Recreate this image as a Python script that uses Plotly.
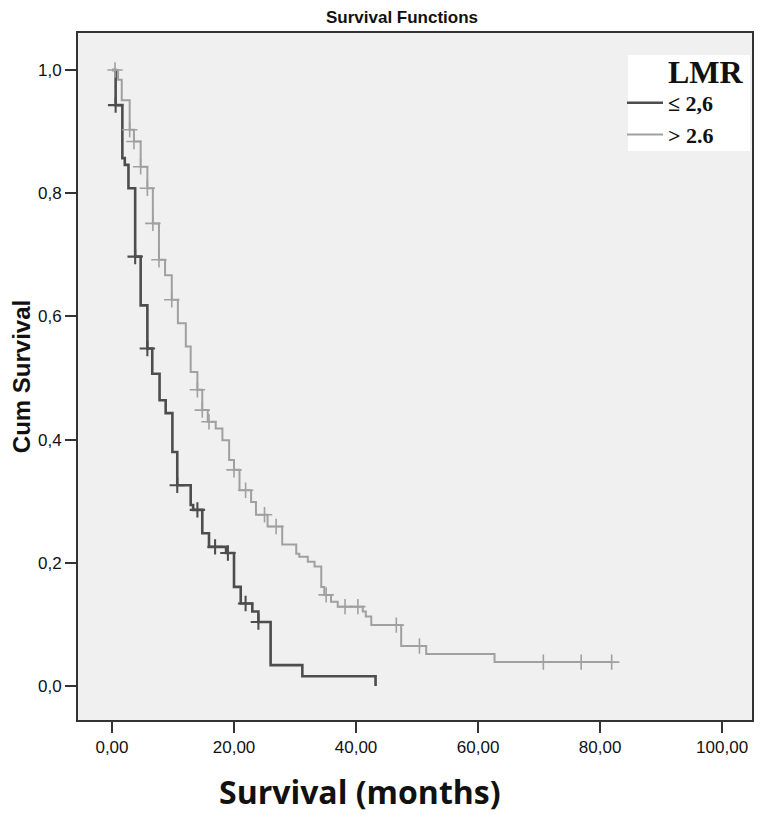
import plotly.graph_objects as go

# ---- data ----
low_times = [0, 0.6, 1.7, 2.1, 2.7, 3.8, 4.7, 5.8, 6.6, 7.8, 8.8, 9.9, 10.7, 12.9, 13.3,
             14.8, 15.9, 18.7, 20.0, 21.1, 23.0, 24.0, 26.0, 31.2, 43.2]
low_surv = [1.0, 0.943, 0.857, 0.846, 0.808, 0.697, 0.618, 0.548, 0.507, 0.464, 0.443, 0.380,
            0.326, 0.294, 0.286, 0.248, 0.226, 0.216, 0.161, 0.134, 0.121, 0.104, 0.034, 0.016, 0.0]
low_censor = [0.6, 3.8, 5.8, 10.7, 14.0, 16.9, 19.0, 21.9, 24.0]

high_times = [0, 1.0, 1.6, 2.9, 3.6, 4.7, 5.8, 6.7, 7.7, 8.7, 9.8, 10.8, 12.1, 12.9, 14.0,
              14.8, 15.7, 17.0, 18.1, 19.2, 20.0, 20.9, 22.8, 23.6, 25.5, 27.9, 30.2, 30.7,
              32.1, 33.2, 34.3, 34.8, 35.9, 37.0, 41.1, 41.6, 42.5, 47.4, 51.5, 62.7]
high_surv = [1.0, 0.984, 0.951, 0.903, 0.884, 0.843, 0.808, 0.751, 0.692, 0.667, 0.627, 0.589,
             0.551, 0.510, 0.481, 0.448, 0.429, 0.418, 0.399, 0.367, 0.351, 0.318, 0.299, 0.278,
             0.259, 0.230, 0.215, 0.210, 0.202, 0.194, 0.161, 0.148, 0.137, 0.129, 0.121, 0.113,
             0.099, 0.065, 0.052, 0.039]
high_censor = [0.5, 2.9, 3.6, 4.7, 5.8, 6.7, 7.7, 9.8, 14.0, 14.8, 15.9, 20.0, 21.9, 25.0,
               26.9, 35.1, 38.2, 40.3, 46.6, 50.4, 70.7, 76.9, 81.9]

x_ticks = [0, 20, 40, 60, 80, 100]
x_ticklabels = ["0,00", "20,00", "40,00", "60,00", "80,00", "100,00"]
y_ticks = [0, 0.2, 0.4, 0.6, 0.8, 1.0]
y_ticklabels = ["0,0", "0,2", "0,4", "0,6", "0,8", "1,0"]

legend_title = "LMR"
group_names = ["\u2264 2,6", "> 2.6"]


def step_value(times, surv, t):
    v = surv[0]
    for ti, si in zip(times, surv):
        if ti <= t:
            v = si
    return v


def extend(times, surv, censor):
    end = max(times[-1], max(censor))
    return times + [end], surv + [surv[-1]]


fig = go.Figure()

groups = [
    (low_times, low_surv, low_censor, "#4d4d4d", 2.6, group_names[0]),
    (high_times, high_surv, high_censor, "#a0a0a0", 2.0, group_names[1]),
]
for times, surv, censor, color, width, name in groups:
    xs, ys = extend(times, surv, censor)
    fig.add_trace(go.Scatter(
        x=xs, y=ys, mode="lines", line=dict(shape="hv", color=color, width=width),
        name=name, legendgroup=name, showlegend=True))
    fig.add_trace(go.Scatter(
        x=censor, y=[step_value(times, surv, c) for c in censor], mode="markers",
        marker=dict(symbol="cross-thin", size=11, line=dict(color=color, width=width * 0.8)),
        name=name + " censored", legendgroup=name, showlegend=False))

sans = "Liberation Sans, Arial, sans-serif"
serif = "Liberation Serif, Times New Roman, serif"
tick_font = dict(family=sans, size=17, color="#111")

# page has an 8px body margin; figure sized to fit the 774x815 window
W, H = 766, 807
PL, PR, PT, PB = 70, 22, 25, 95
pw, ph = W - PL - PR, H - PT - PB


def px_x(page_x):  # page pixel -> paper x
    return (page_x - 8 - PL) / pw


def px_y(page_y):  # page pixel -> paper y
    return (H - PB - (page_y - 8)) / ph


fig.update_layout(
    width=W, height=H,
    margin=dict(l=PL, r=PR, t=PT, b=PB),
    paper_bgcolor="white",
    plot_bgcolor="#f0f0f0",
    title=dict(text="<b>Survival Functions</b>", x=394 / W, xanchor="center",
               y=1 - 9 / H, yanchor="middle",
               font=dict(family="Liberation Sans Narrow, Arial Narrow, Liberation Sans", size=17, color="#111")),
    showlegend=True,
    legend=dict(
        font=dict(family=serif, size=22, color="#111", weight="bold"),
        bgcolor="rgba(255,255,255,0)", borderwidth=0,
        x=px_x(622), xanchor="left", y=px_y(82), yanchor="top",
        itemwidth=36, tracegroupgap=0,
    ),
    shapes=[dict(type="rect", xref="paper", yref="paper", layer="above",
                 x0=px_x(628), x1=px_x(750), y0=px_y(151), y1=px_y(55),
                 fillcolor="white", line=dict(width=0))],
    xaxis=dict(
        range=[-5.57, 104.9], tickvals=x_ticks, ticktext=x_ticklabels,
        showgrid=False, zeroline=False, ticks="outside", ticklen=11, tickwidth=2, tickcolor="#333",
        showline=True, linecolor="#333", linewidth=2, mirror=True,
        tickfont=tick_font,
    ),
    yaxis=dict(
        range=[-0.055, 1.06], tickvals=y_ticks, ticktext=y_ticklabels,
        showgrid=False, zeroline=False, ticks="outside", ticklen=11, tickwidth=2, tickcolor="#333",
        showline=True, linecolor="#333", linewidth=2, mirror=True,
        tickfont=tick_font,
        title=dict(text="<b>Cum Survival</b>", standoff=2,
                   font=dict(family=sans, size=24, color="#111")),
    ),
    annotations=[
        dict(text="<b>Survival (months)</b>", xref="paper", yref="paper",
             x=px_x(360), y=px_y(791), xanchor="center", yanchor="middle",
             showarrow=False, font=dict(family="Open Sans, Lato, sans-serif", size=32, color="#111")),
        dict(text="<b>" + legend_title + "</b>", xref="paper", yref="paper",
             x=px_x(746), y=px_y(72), xanchor="right", yanchor="middle",
             showarrow=False, font=dict(family=serif, size=32, color="#111")),
    ],
)

fig.write_html("out.html")
